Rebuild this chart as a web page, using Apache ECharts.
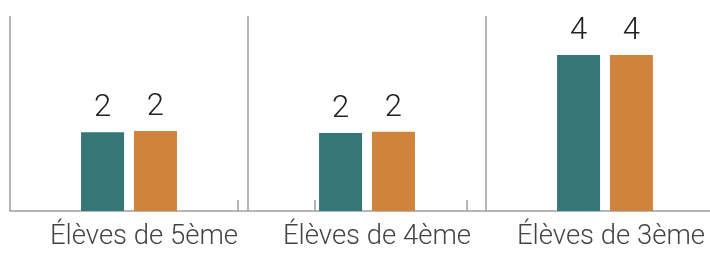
<!DOCTYPE html>
<html><head><meta charset="utf-8">
<script src="https://cdn.jsdelivr.net/npm/echarts@6/dist/echarts.min.js"></script>
<style>html,body{margin:0;padding:0;background:#fff}#c{width:710px;height:255px}</style>
</head><body><div id="c"></div>
<script>
const categories = ['Élèves de 5ème', 'Élèves de 4ème', 'Élèves de 3ème'];
const seriesA = [2.02, 2.0, 4.0];
const seriesB = [2.05, 2.03, 4.0];
const shownA = [2, 2, 4];
const shownB = [2, 2, 4];
const extraTicks = [228, 305, 457];
const FONT = 'Roboto';
const chart = echarts.init(document.getElementById('c'), null, {renderer: 'canvas'});
function lab(shown) {
  return {show: true, position: 'top', distance: 8, color: '#222', fontFamily: FONT, fontWeight: 300, fontSize: 31,
    formatter: p => String(shown[p.dataIndex])};
}
const txt = {color: '#444', fontFamily: FONT, fontWeight: 300, fontSize: 27.5};
chart.setOption({
  animation: false,
  grid: {left: 10, top: 16, bottom: 44, width: 714, outerBoundsMode: 'none', containLabel: false},
  xAxis: [{
    type: 'category', data: categories,
    axisLine: {lineStyle: {color: '#9e9e9e', width: 1.5}},
    axisTick: {show: false},
    splitLine: {show: true, interval: 0, lineStyle: {color: '#9e9e9e', width: 1.5}},
    axisLabel: {interval: 0, hideOverlap: false, margin: 12, ...txt,
      formatter: (v, i) => '{l' + i + '|' + v + '}',
      rich: {
        l0: {...txt, padding: [0, 0, 0, 30]},
        l1: {...txt, padding: [0, 0, 0, 20]},
        l2: {...txt, padding: [0, 0, 0, 12]}
      }}
  }, {
    type: 'value', min: 0, max: 714, position: 'bottom',
    axisLine: {show: false},
    axisTick: {show: true, inside: true, length: 11, customValues: extraTicks, lineStyle: {color: '#9e9e9e', width: 1.5}},
    axisLabel: {show: false},
    splitLine: {show: false}
  }],
  yAxis: {type: 'value', min: 0, max: 5, show: false},
  series: [
    {type: 'bar', data: seriesA, barWidth: 43, barGap: '23%', itemStyle: {color: '#357777'}, label: lab(shownA)},
    {type: 'bar', data: seriesB, barWidth: 43, itemStyle: {color: '#d0833d'}, label: lab(shownB)}
  ]
});
</script></body></html>
